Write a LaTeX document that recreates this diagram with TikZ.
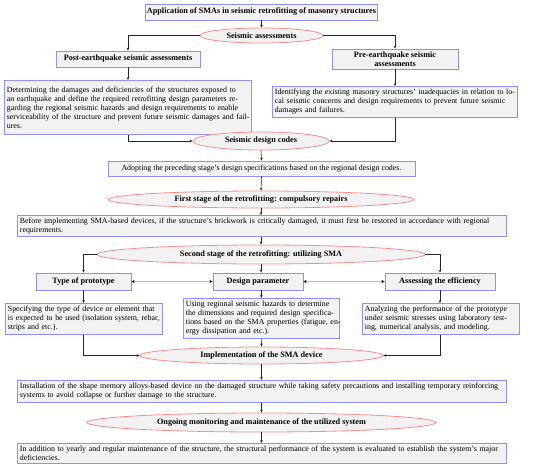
\documentclass[tikz,border=0pt]{standalone}
\usepackage{fontspec}
\setmainfont{Liberation Serif}
\usetikzlibrary{shapes.geometric,arrows.meta,calc}
\definecolor{boxblue}{HTML}{8F8FFF}
\definecolor{boxfill}{HTML}{F2F2F2}
\definecolor{ellred}{HTML}{FF8C8C}
\definecolor{dblgray}{HTML}{BBBBBB}
\newcommand{\bodyfont}{\fontsize{7.9}{9}\selectfont}
\newcommand{\jl}[1]{\leavevmode\hbox to \hsize{#1}}
\tikzset{
  rect/.style={draw=boxblue,fill=boxfill,line width=0.8pt,inner sep=1.5pt,font=\bodyfont},
  head/.style={rect,font=\fontsize{8.2}{9}\selectfont\bfseries,align=center},
  desc/.style={rect,align=left,anchor=north west,inner sep=2.5pt},
  ell/.style={ellipse,draw=ellred,fill=boxfill,line width=0.8pt,inner sep=0pt,font=\fontsize{8.2}{9}\selectfont\bfseries},
  conn/.style={draw=black!85,line width=0.6pt,-{Stealth[length=3pt,width=2.6pt]}},
  dbl/.style={draw=dblgray,line width=1pt,{Stealth[length=3.2pt,width=3pt,black]}-{Stealth[length=3.2pt,width=3pt,black]}}
}
\begin{document}
\begin{tikzpicture}[x=1pt,y=-1pt]
\useasboundingbox (0,0) rectangle (550,472);
% top
\node[head,minimum width=227pt,minimum height=16pt] (title) at (261.5,12) {Application of SMAs in seismic retrofitting of masonry structures};
\node[ell,minimum width=123pt,minimum height=15pt] (sa) at (261.5,35.5) {Seismic assessments};
\node[head,minimum width=144pt,minimum height=16pt] (post) at (128,59) {Post-earthquake seismic assessments};
\node[head,minimum width=126pt,minimum height=20pt] (pre) at (395,59) {Pre-earthquake seismic\\assessments};
\node[desc,text width=242pt,minimum height=54pt] (det) at (4,80) {\jl{Determining the damages and deficiencies of the structures exposed to}\\\jl{an earthquake and define the required retrofitting design parameters re-}\\\jl{garding the regional seismic hazards and design requirements to enable}\\\jl{serviceability of the structure and prevent future seismic damages and fail-}\\ures.};
\node[desc,text width=240pt,minimum height=31pt] (ident) at (272,86) {\jl{Identifying the existing masonry structures' inadequacies in relation to lo-}\\\jl{cal seismic concerns and design requirements to prevent future seismic}\\damages and failures.};
\node[ell,minimum width=136pt,minimum height=18pt] (sdc) at (261,141) {Seismic design codes};
\node[rect,minimum width=307pt,minimum height=15pt] (adopt) at (261.5,168.5) {Adopting the preceding stage's design specifications based on the regional design codes.};
\node[ell,minimum width=306pt,minimum height=17pt] (first) at (261,199.5) {First stage of the retrofitting: compulsory repairs};
\node[desc,text width=484pt,minimum height=21pt] (before) at (17,215) {\jl{Before implementing SMA-based devices, if the structure's brickwork is critically damaged, it must first be restored in accordance with regional}\\requirements.};
\node[ell,minimum width=328pt,minimum height=19pt] (second) at (261,254.5) {Second stage of the retrofitting: utilizing SMA};
\node[head,minimum width=95pt,minimum height=17pt] (type) at (83.5,281.5) {Type of prototype};
\node[head,minimum width=90pt,minimum height=17pt] (design) at (258,281.5) {Design parameter};
\node[head,minimum width=110pt,minimum height=17pt] (assess) at (440,281.5) {Assessing the efficiency};
\node[desc,text width=152pt,minimum height=31pt] (spec) at (5,303) {\jl{Specifying the type of device or element that}\\\jl{is expected to be used (isolation system, rebar,}\\strips and etc.).};
\node[desc,text width=151pt,minimum height=40pt] (using) at (183,298) {\jl{Using regional seismic hazards to determine}\\\jl{the dimensions and required design specifica-}\\\jl{tions based on the SMA properties (fatigue, en-}\\ergy dissipation and etc.).};
\node[desc,text width=152pt,minimum height=31pt] (anal) at (362,303) {\jl{Analyzing the performance of the prototype}\\\jl{under seismic stresses using laboratory test-}\\ing, numerical analysis, and modeling.};
\node[ell,minimum width=243pt,minimum height=17pt] (impl) at (261.5,355.5) {Implementation of the SMA device};
\node[desc,text width=484pt,minimum height=22pt] (install) at (17,380) {\jl{Installation of the shape memory alloys-based device on the damaged structure while taking safety precautions and installing temporary reinforcing}\\systems to avoid collapse or further damage to the structure.};
\node[ell,minimum width=349pt,minimum height=19pt] (ongoing) at (261.5,422.5) {Ongoing monitoring and maintenance of the utilized system};
\node[desc,text width=484pt,minimum height=20pt] (inadd) at (17,443) {\jl{In addition to yearly and regular maintenance of the structure, the structural performance of the system is evaluated to establish the system's major}\\deficiencies.};
% connectors
\draw[conn] (title.south) -- (sa.north);
\draw[conn] (sa.west) -| (post.north);
\draw[conn] (sa.east) -| (pre.north);
\draw[conn] (post.south) -- (post.south |- det.north);
\draw[conn] (pre.south) -- (ident.north -| pre.south);
\draw[conn] (det.south -| post.south) |- (sdc.west);
\draw[conn] (ident.south -| pre.south) |- (sdc.east);
\draw[conn] (sdc.south) -- (adopt.north);
\draw[conn] (adopt.south) -- (first.north);
\draw[conn] (first.south) -- (before.north -| first.south);
\draw[conn] (before.south -| second.north) -- (second.north);
\draw[conn] (second.west) -| (type.north);
\draw[conn] (second.south) -- (second.south |- design.north);
\draw[conn] (second.east) -| (assess.north);
\draw[dbl] (type.east) -- (design.west);
\draw[dbl] (design.east) -- (assess.west);
\draw[conn] (type.south) -- (type.south |- spec.north);
\draw[conn] (using.north |- design.south) -- (using.north);
\draw[conn] (assess.south) -- (assess.south |- anal.north);
\draw[conn] (spec.south -| type.south) |- (impl.west);
\draw[conn] (using.south) -- (impl.north);
\draw[conn] (anal.south -| assess.south) |- (impl.east);
\draw[conn] (impl.south) -- (install.north -| impl.south);
\draw[conn] (install.south -| ongoing.north) -- (ongoing.north);
\draw[conn] (ongoing.south) -- (inadd.north -| ongoing.south);
\end{tikzpicture}
\end{document}
